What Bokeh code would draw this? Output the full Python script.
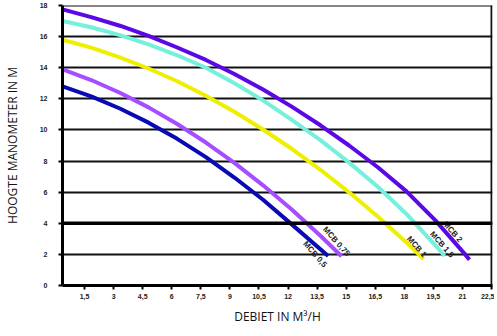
from bokeh.plotting import figure
from bokeh.models import FixedTicker, Span
from bokeh.core.properties import value
from bokeh.embed import file_html
from bokeh.resources import INLINE

# ---- data ----
x_ticks = [1.5, 3, 4.5, 6, 7.5, 9, 10.5, 12, 13.5, 15, 16.5, 18, 19.5, 21, 22.5]
x_tick_labels = ["1,5", "3", "4,5", "6", "7,5", "9", "10,5", "12", "13,5", "15",
                 "16,5", "18", "19,5", "21", "22,5"]
y_ticks = [0, 2, 4, 6, 8, 10, 12, 14, 16, 18]

series_names = ["MCB 0,5", "MCB 0,75", "MCB 1", "MCB 1,5", "MCB 2"]
series_colors = ["#0a0ab4", "#a64dff", "#eef000", "#74f0dc", "#5a08e6"]

# flow (m3/h) positions at which heads were read
q_read = [0.36, 1.84, 3.32, 4.80, 6.28, 7.76, 9.23, 10.71, 12.19, 13.67, 15.15,
          16.63, 18.11, 19.59, 21.07]

mcb05_q = q_read[:9] + [14.07]
mcb05_h = [12.8, 12.16, 11.38, 10.47, 9.43, 8.25, 6.94, 5.51, 3.93, 1.9]

mcb075_q = q_read[:10] + [14.76]
mcb075_h = [13.9, 13.21, 12.39, 11.45, 10.38, 9.19, 7.88, 6.44, 4.88, 3.2, 1.88]

mcb1_q = q_read[:13] + [19.0]
mcb1_h = [15.8, 15.29, 14.67, 13.95, 13.13, 12.2, 11.17, 10.03, 8.79, 7.44,
          5.99, 4.43, 2.77, 1.7]

mcb15_q = q_read[:14] + [20.08]
mcb15_h = [17.0, 16.6, 16.1, 15.5, 14.8, 14.0, 13.0, 11.9, 10.65, 9.35, 7.9,
           6.35, 4.6, 2.6, 1.9]

mcb2_q = q_read[:15] + [21.36]
mcb2_h = [17.75, 17.25, 16.7, 16.05, 15.3, 14.5, 13.6, 12.6, 11.5, 10.3, 9.0,
          7.6, 6.05, 4.2, 2.1, 1.65]

label_q = [12.85, 13.88, 18.21, 19.4, 20.07]
label_h = [2.77, 3.7, 3.1, 3.4, 4.05]

curves_q = [mcb05_q, mcb075_q, mcb1_q, mcb15_q, mcb2_q]
curves_h = [mcb05_h, mcb075_h, mcb1_h, mcb15_h, mcb2_h]

# ---- figure ----
p = figure(width=485, height=321, frame_width=430, frame_height=280,
           x_range=(0.36, 22.55), y_range=(0, 18),
           output_backend="svg", toolbar_location=None,
           min_border_left=53, min_border_right=2, min_border_top=5, min_border_bottom=36)
p.outline_line_color = None
p.background_fill_color = "white"
p.border_fill_color = "white"

p.xgrid.visible = False
p.ygrid.ticker = FixedTicker(ticks=y_ticks)
p.ygrid.grid_line_color = "#111111"
p.ygrid.grid_line_width = 2

for q, h, c in zip(curves_q, curves_h, series_colors):
    p.line(q, h, line_color=c, line_width=4, line_join="round")

p.add_layout(Span(location=4, dimension="width", line_color="black", line_width=3.5))
p.add_layout(Span(location=18, dimension="width", line_color="#111111", line_width=2))
p.add_layout(Span(location=22.5, dimension="height", line_color="#111111", line_width=2))

p.text(label_q, label_h, text=series_names, angle=-0.85,
       text_font=value("Liberation Sans"), text_font_style="bold",
       text_font_size="8px", text_color="#222222",
       text_align="left", text_baseline="middle")

# axes
p.xaxis.ticker = FixedTicker(ticks=x_ticks)
p.xaxis.major_label_overrides = {t: l for t, l in zip(x_ticks, x_tick_labels)}
p.yaxis.ticker = FixedTicker(ticks=y_ticks)
p.yaxis.major_label_overrides = {t: str(t) for t in y_ticks}

for ax in (p.xaxis, p.yaxis):
    ax.axis_line_width = 3
    ax.axis_line_color = "black"
    ax.major_tick_line_color = "black"
    ax.major_tick_line_width = 2
    ax.major_tick_in = 0
    ax.major_tick_out = 4
    ax.minor_tick_line_color = None
    ax.major_label_text_font = "Liberation Sans"
    ax.major_label_text_font_style = "bold"
    ax.major_label_text_font_size = "7px"
    ax.major_label_text_color = "#222222"
    ax.axis_label_text_font = "Open Sans"
    ax.axis_label_text_font_style = "normal"
    ax.axis_label_text_color = "#111111"

p.xaxis.major_label_standoff = 4
p.yaxis.major_label_standoff = 11
p.xaxis.axis_label = "DEBIET IN M³/H"
p.yaxis.axis_label = "HOOGTE MANOMETER IN M"
p.xaxis.axis_label_text_font_size = "12px"
p.yaxis.axis_label_text_font_size = "12px"
p.xaxis.axis_label_standoff = 6
p.yaxis.axis_label_standoff = 16

open("out.html", "w").write(file_html(p, INLINE))
